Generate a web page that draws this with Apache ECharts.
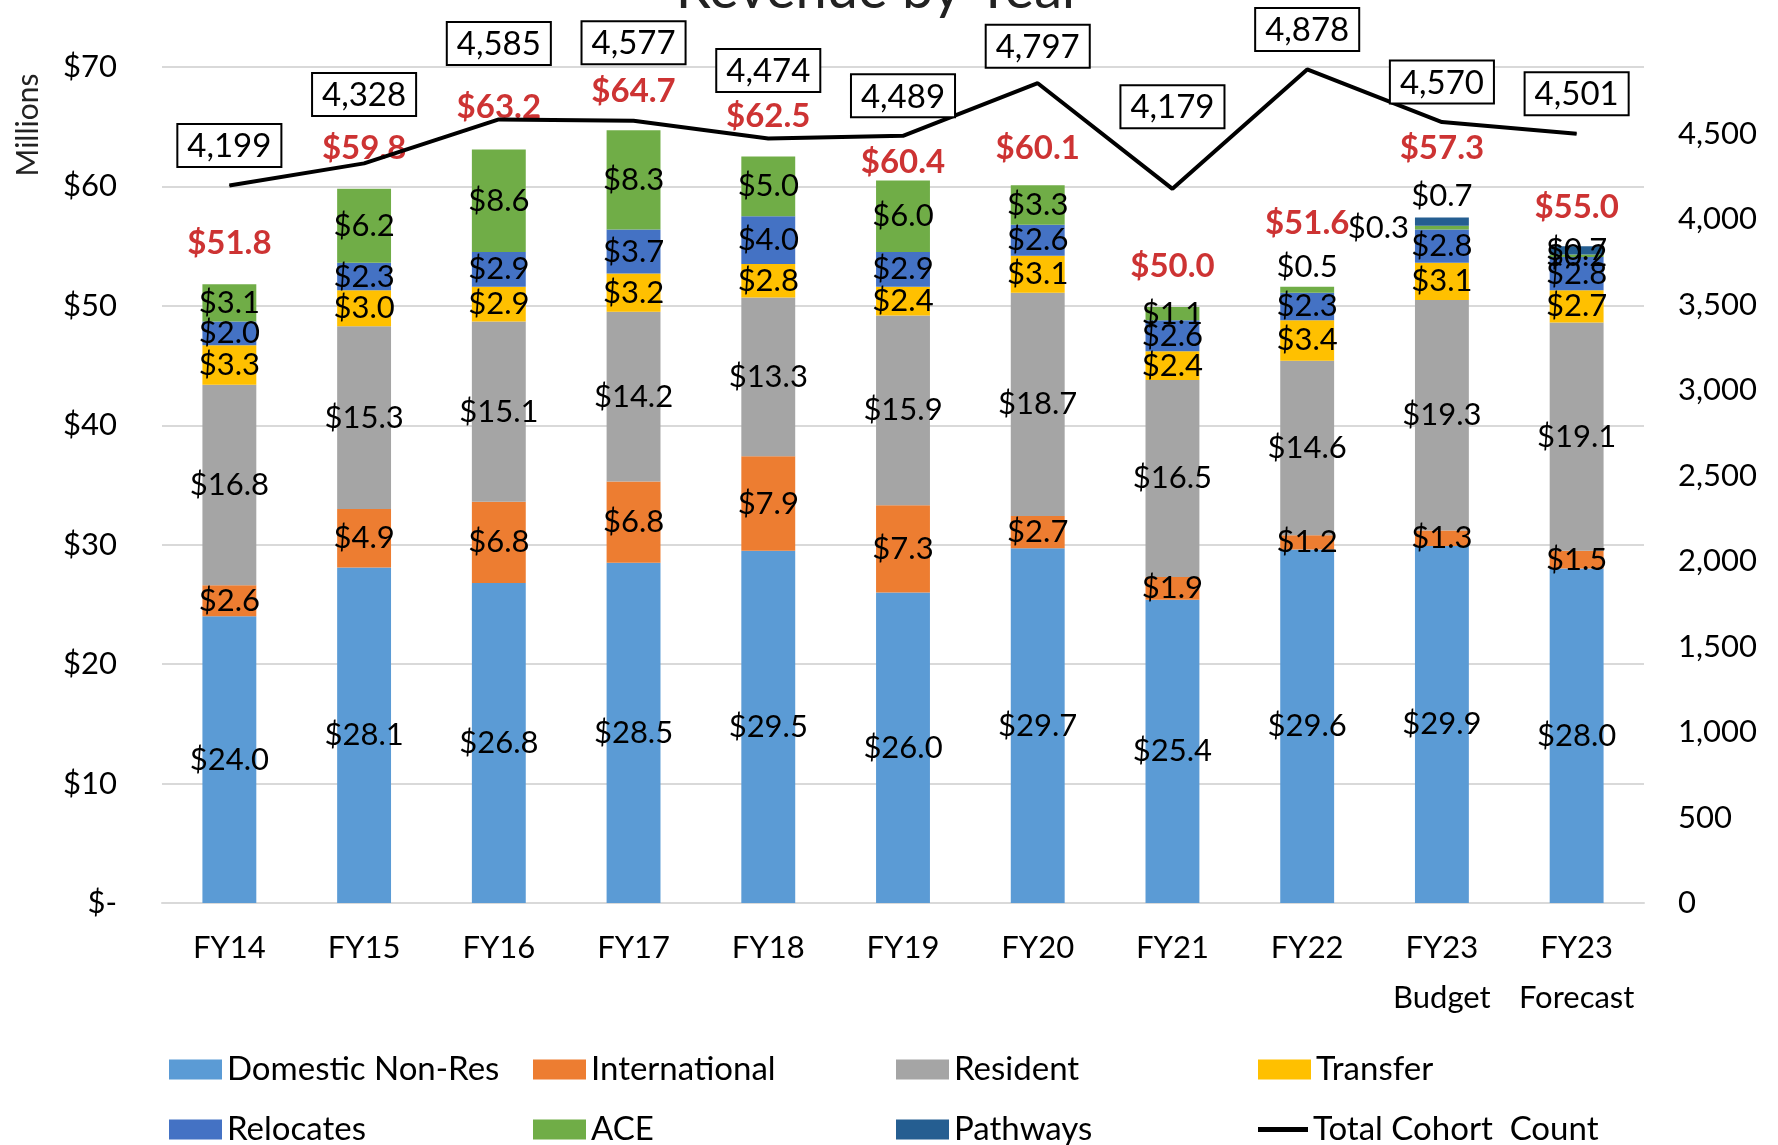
<!DOCTYPE html>
<html>
<head>
<meta charset="utf-8">
<script src="https://cdn.jsdelivr.net/npm/echarts@6/dist/echarts.min.js"></script>
<style>
  html, body { margin: 0; padding: 0; background: #fff; }
  #chart { width: 1778px; height: 1145px; }
</style>
</head>
<body>
<div id="chart"></div>
<script>
// categories
var years = ['FY14', 'FY15', 'FY16', 'FY17', 'FY18', 'FY19', 'FY20', 'FY21', 'FY22', 'FY23\nBudget', 'FY23\nForecast']

// revenue by segment, $ millions
var domesticNonRes = [24.0, 28.1, 26.8, 28.5, 29.5, 26.0, 29.7, 25.4, 29.6, 29.9, 28.0]
var international = [2.6, 4.9, 6.8, 6.8, 7.9, 7.3, 2.7, 1.9, 1.2, 1.3, 1.5]
var resident = [16.8, 15.3, 15.1, 14.2, 13.3, 15.9, 18.7, 16.5, 14.6, 19.3, 19.1]
var transfer = [3.3, 3.0, 2.9, 3.2, 2.8, 2.4, 3.1, 2.4, 3.4, 3.1, 2.7]
var relocates = [2.0, 2.3, 2.9, 3.7, 4.0, 2.9, 2.6, 2.6, 2.3, 2.8, 2.8]
var ace = [3.1, 6.2, 8.6, 8.3, 5.0, 6.0, 3.3, 1.1, 0.5, 0.3, 0.2]
var pathways = [0, 0, 0, 0, 0, 0, 0, 0, 0, 0.7, 0.7]

// totals as labelled
var totals = [51.8, 59.8, 63.2, 64.7, 62.5, 60.4, 60.1, 50.0, 51.6, 57.3, 55.0]

// total cohort count (right axis)
var cohortCount = [4199, 4328, 4585, 4577, 4474, 4489, 4797, 4179, 4878, 4570, 4501]

// axis ticks
var leftMax = 70
var leftStep = 10
var rightStep = 500

var FONT = 'Lato, "Noto Sans", sans-serif'

// label placement tweaks (px), as in the original layout
var totalLift = [24, 23, 24, 22, 23, 2, 20, 22, 46, 53, 22]
var cohortLift = [19, 48, 55, 57, 47, 19, 16, 61, 19, 19, 19]

var segColors = ['#5B9BD5', '#ED7D31', '#A5A5A5', '#FFC000', '#4472C4', '#70AD47', '#255E91']
var segNames = ['Domestic Non-Res', 'International', 'Resident', 'Transfer', 'Relocates', 'ACE', 'Pathways']
var segData = [domesticNonRes, international, resident, transfer, relocates, ace, pathways]

function money(v) {
  return '$' + v.toFixed(1)
}

var series = segData.map(function(arr, k) {
  return {
    name: segNames[k],
    type: 'bar',
    stack: 'rev',
    barWidth: '40%',
    itemStyle: { color: segColors[k] },
    label: {
      show: true,
      position: 'inside',
      color: '#000',
      fontFamily: FONT,
      fontSize: 31,
      formatter: function(p) {
        return p.value > 0 ? money(p.value) : ''
      }
    },
    data: arr.map(function(v, i) {
      var item = { value: v }
      // small slices pushed outside, like the original
      if (segNames[k] === 'ACE' && i === 8) {
        item.label = { position: 'top', distance: 4 }
      }
      if (segNames[k] === 'ACE' && i === 9) {
        item.label = { position: 'left', distance: 6 }
      }
      if (segNames[k] === 'Pathways' && i === 9) {
        item.label = { position: 'top', distance: 6 }
      }
      return item
    })
  }
})

// red totals above bars
series.push({
  name: 'totals',
  type: 'scatter',
  symbolSize: 1,
  itemStyle: { color: 'transparent' },
  silent: true,
  z: 5,
  label: {
    show: true,
    position: 'top',
    color: '#C00000',
    fontWeight: 'bold',
    fontFamily: FONT,
    fontSize: 33,
    formatter: function(p) {
      return money(p.value)
    }
  },
  data: totals.map(function(v, i) {
    return { value: v, label: { distance: totalLift[i] } }
  })
})

// cohort line
series.push({
  name: 'Total Cohort  Count',
  type: 'line',
  yAxisIndex: 1,
  symbol: 'circle',
  symbolSize: 1,
  showSymbol: true,
  z: 6,
  lineStyle: { color: '#000', width: 4 },
  itemStyle: { color: '#000' },
  label: {
    show: true,
    position: 'top',
    color: '#000',
    fontFamily: FONT,
    fontSize: 33,
    backgroundColor: '#fff',
    borderColor: '#000',
    borderWidth: 2,
    padding: [5, 9, 3, 9],
    formatter: function(p) {
      return p.value.toLocaleString('en-US')
    }
  },
  data: cohortCount.map(function(v, i) {
    return { value: v, label: { distance: cohortLift[i] } }
  })
})

// legend laid out in a 4 x 2 grid
var legendNames = segNames.concat(['Total Cohort  Count'])
var legendCols = [164, 528, 891, 1253]
var legendRows = [1048, 1108]
var legends = legendNames.map(function(name, i) {
  var isLine = i === 7
  return {
    data: [name],
    left: legendCols[i % 4],
    top: legendRows[Math.floor(i / 4)],
    icon: 'rect',
    itemWidth: isLine ? 50 : 53,
    itemHeight: isLine ? 5 : 20,
    itemGap: 5,
    textStyle: { color: '#000', fontFamily: FONT, fontSize: 33 },
    selectedMode: false
  }
})

var option = {
  animation: false,
  backgroundColor: '#fff',
  textStyle: { fontFamily: FONT },
  grid: {
    left: 162,
    right: 134,
    top: 67,
    bottom: 242
  },
  legend: legends,
  graphic: [
    {
      type: 'text',
      x: 879,
      y: -10,
      style: {
        text: 'Revenue by Year',
        fontFamily: FONT,
        fontSize: 56,
        fill: '#222',
        textAlign: 'center',
        textVerticalAlign: 'middle'
      }
    },
    {
      type: 'text',
      x: 28,
      y: 125,
      rotation: Math.PI / 2,
      style: {
        text: 'Millions',
        fontFamily: FONT,
        fontSize: 30,
        fill: '#222',
        textAlign: 'center',
        textVerticalAlign: 'middle'
      }
    }
  ],
  xAxis: {
    type: 'category',
    data: years,
    axisLine: { show: true, lineStyle: { color: '#D9D9D9', width: 2 } },
    axisTick: { show: false },
    axisLabel: {
      color: '#000',
      fontFamily: FONT,
      fontSize: 31,
      lineHeight: 50,
      margin: 20,
      interval: 0
    }
  },
  yAxis: [
    {
      type: 'value',
      min: 0,
      max: leftMax,
      interval: leftStep,
      axisLine: { show: false },
      axisTick: { show: false },
      splitLine: { lineStyle: { color: '#D9D9D9', width: 2 } },
      axisLabel: {
        color: '#000',
        fontFamily: FONT,
        fontSize: 31,
        margin: 45,
        formatter: function(v) {
          return v === 0 ? '$-' : '$' + v
        }
      }
    },
    {
      type: 'value',
      min: 0,
      max: 4892,
      interval: rightStep,
      axisLine: { show: false },
      axisTick: { show: false },
      splitLine: { show: false },
      axisLabel: {
        color: '#000',
        fontFamily: FONT,
        fontSize: 31,
        margin: 34,
        showMaxLabel: false,
        formatter: function(v) {
          return v.toLocaleString('en-US')
        }
      }
    }
  ],
  series: series
}

var chart = echarts.init(document.getElementById('chart'))
chart.setOption(option, true)
window.addEventListener('resize', function() {
  chart.resize()
})
</script>
</body>
</html>
